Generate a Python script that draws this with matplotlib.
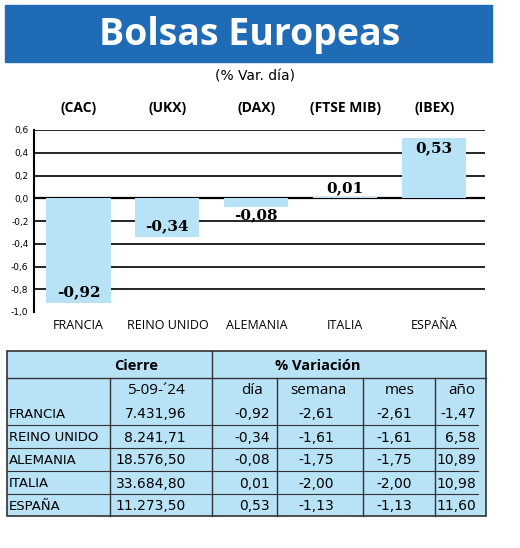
import matplotlib
matplotlib.use("Agg")
import matplotlib.pyplot as plt
from matplotlib.patches import Rectangle

countries = ["FRANCIA", "REINO UNIDO", "ALEMANIA", "ITALIA", "ESPAÑA"]
indices = ["(CAC)", "(UKX)", "(DAX)", "(FTSE MIB)", "(IBEX)"]
dia = [-0.92, -0.34, -0.08, 0.01, 0.53]
cierre = ["7.431,96", "8.241,71", "18.576,50", "33.684,80", "11.273,50"]
dia_txt = ["-0,92", "-0,34", "-0,08", "0,01", "0,53"]
semana = ["-2,61", "-1,61", "-1,75", "-2,00", "-1,13"]
mes = ["-2,61", "-1,61", "-1,75", "-2,00", "-1,13"]
anio = ["-1,47", "6,58", "10,89", "10,98", "11,60"]
yticks = [0.6, 0.4, 0.2, 0.0, -0.2, -0.4, -0.6, -0.8, -1.0]

W, H = 520, 548
fig = plt.figure(figsize=(W/100, H/100), dpi=100)
bg = fig.add_axes([0, 0, 1, 1])
bg.set_xlim(0, W); bg.set_ylim(H, 0); bg.axis("off")

blue = "#1f6bb5"
light = "#b8e2f6"
bg.add_patch(Rectangle((5, 5), 487, 57, color=blue))
bg.text(250, 35, "Bolsas Europeas", color="white", fontsize=27, fontweight="bold",
        ha="center", va="center", family="Open Sans")
bg.text(255, 77, "(% Var. día)", fontsize=10, ha="center", va="center")

L, R, T, B = 34, 485, 130, 312
ax = fig.add_axes([L/W, 1-B/H, (R-L)/W, (B-T)/H])
x = range(len(dia))
ax.bar(x, dia, width=0.72, color=light, zorder=2)
ax.set_ylim(-1.0, 0.6)
x0, x1 = -0.5, 4.57
ax.set_xlim(x0, x1)
ax.set_yticks(yticks)
ax.set_yticklabels([f"{v:.1f}".replace(".", ",") for v in yticks], fontsize=6.5)
for v in yticks[1:-1]:
    ax.axhline(v, color="black", lw=1.6 if v == 0 else 1.2, zorder=1)
ax.axhline(0.6, color="black", lw=1.2, zorder=1)
for s in ["top", "right", "bottom"]:
    ax.spines[s].set_visible(False)
ax.spines["left"].set_linewidth(1.5)
ax.set_xticks(list(x))
ax.set_xticklabels(countries, fontsize=9, family="Open Sans")
ax.tick_params(axis="x", length=0, pad=5)
ax.tick_params(axis="y", length=0, pad=4)
for i, v in enumerate(dia):
    if v < -0.2:
        ax.text(i, v + 0.03, dia_txt[i], ha="center", va="bottom", fontsize=11,
                fontweight="bold", family="DejaVu Serif", zorder=3)
    elif v < 0:
        ax.text(i, v - 0.005, dia_txt[i], ha="center", va="top", fontsize=11,
                fontweight="bold", family="DejaVu Serif", zorder=3)
    else:
        ax.text(i, v - 0.03 if v > 0.2 else v + 0.02, dia_txt[i], ha="center",
                va="top" if v > 0.2 else "bottom", fontsize=11,
                fontweight="bold", family="DejaVu Serif", zorder=3)
    bg.text(L + (i - x0) / (x1 - x0) * (R - L), 108, indices[i], ha="center", va="center",
            fontsize=10, fontweight="bold", family="Open Sans")

tx0, tx1, ty0, ty1 = 7, 486, 351, 516
bg.add_patch(Rectangle((tx0, ty0), tx1-tx0, ty1-ty0, facecolor=light, edgecolor="#333", lw=1.2))
cols = [7, 110, 212, 277, 363, 435, 486]
bg.plot([212, 212], [ty0, ty1], color="#333", lw=1)
bg.plot([tx0, tx1], [378, 378], color="#333", lw=1)
for c in cols[1:-1]:
    if c != 212:
        bg.plot([c, c], [378, ty1], color="#333", lw=1)
bg.text(136, 366, "Cierre", fontsize=10.5, fontweight="bold", ha="center", va="center", family="Open Sans")
bg.text(318, 366, "% Variación", fontsize=10.5, fontweight="bold", ha="center", va="center", family="Open Sans")
hdr = ["5-09-´24", "día", "semana", "mes", "año"]
hx = [156, 252, 318, 400, 462]
for t, xx in zip(hdr, hx):
    bg.text(xx, 391, t, fontsize=11, ha="center", va="center", family="Open Sans")
rowy = [402, 425, 448, 471, 494]
rowh = 23
for r in range(5):
    y0 = rowy[r]
    if r < 4:
        bg.plot([tx0, 478], [y0 + rowh, y0 + rowh], color="#333", lw=0.8)
    yc = y0 + rowh / 2 + 1
    bg.text(9, yc, countries[r], fontsize=9.5, ha="left", va="center", family="Liberation Sans Narrow")
    bg.text(186, yc, cierre[r], fontsize=10, ha="right", va="center", family="Liberation Sans Narrow")
    bg.text(270, yc, dia_txt[r], fontsize=10, ha="right", va="center", family="Liberation Sans Narrow")
    bg.text(334, yc, semana[r], fontsize=10, ha="right", va="center", family="Liberation Sans Narrow")
    bg.text(412, yc, mes[r], fontsize=10, ha="right", va="center", family="Liberation Sans Narrow")
    bg.text(476, yc, anio[r], fontsize=10, ha="right", va="center", family="Liberation Sans Narrow")

fig.savefig("out.png", dpi=100)
